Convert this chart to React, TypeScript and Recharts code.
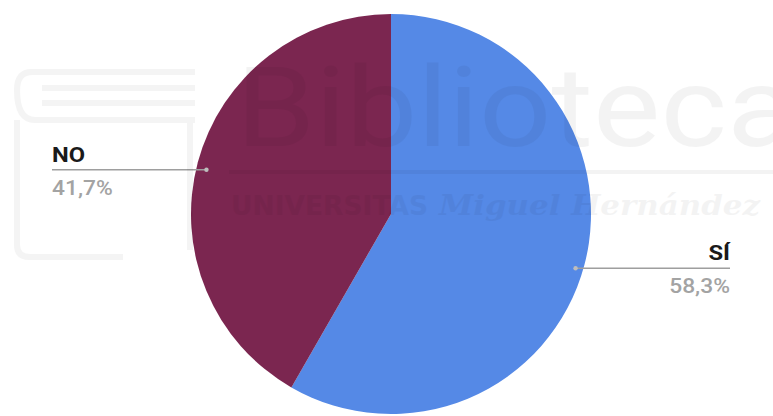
import React from 'react';
import { PieChart, Pie, Cell } from 'recharts';

const labels = ['SÍ', 'NO'];
const values = [58.3, 41.7];
const colors = ['#5589e6', '#7b2650'];

const data = labels.map((name, i) => ({ name, value: values[i] }));

const fmt = (v: number) => v.toFixed(1).replace('.', ',') + '%';

const RAD = Math.PI / 180;

const renderLabel = (props: any) => {
  const { cx, cy, midAngle, outerRadius, name, value } = props;
  const r = outerRadius - 9;
  const x = cx + r * Math.cos(-midAngle * RAD);
  const y = cy + r * Math.sin(-midAngle * RAD) + 5;
  const right = x > cx;
  const endX = right ? cx + 339 : cx - 339;
  const anchor = right ? 'end' : 'start';
  return (
    <g>
      <line x1={x} y1={y} x2={endX} y2={y} stroke="#9e9e9e" strokeWidth={1.5} />
      <circle cx={x} cy={y} r={2.2} fill="#bdbdbd" />
      <g transform={`translate(${endX},${y - 8}) scale(1.13,1)`}>
        <text x={0} y={0} textAnchor={anchor} fontFamily="Roboto" fontWeight={700} fontSize={21} fill="#1a1a1a">
          {name}
        </text>
      </g>
      <g transform={`translate(${endX},${y + 25}) scale(1.17,1)`}>
        <text x={0} y={0} textAnchor={anchor} fontFamily="Roboto" fontWeight={500} fontSize={19.5} fill="#a3a3a3">
          {fmt(value)}
        </text>
      </g>
    </g>
  );
};

export default function App() {
  return (
    <div style={{ position: 'absolute', left: 0, top: 0, width: 773, height: 416, background: '#fff' }}>
      <PieChart width={773} height={416} margin={{ top: 0, right: 0, bottom: 0, left: 0 }}>
        <Pie
          data={data}
          dataKey="value"
          nameKey="name"
          cx={391}
          cy={214}
          outerRadius={200}
          startAngle={90}
          endAngle={-270}
          stroke="none"
          label={renderLabel}
          labelLine={false}
          isAnimationActive={false}
        >
          {data.map((d, i) => (
            <Cell key={d.name} fill={colors[i]} />
          ))}
        </Pie>
      </PieChart>
      <svg width={773} height={416} style={{ position: 'absolute', left: 0, top: 0, pointerEvents: 'none' }}>
        <g opacity={0.045} fill="#000" stroke="none">
          <text x={236} y={146} fontFamily="Roboto" fontWeight={400} fontSize={112} textLength={560} lengthAdjust="spacingAndGlyphs">Biblioteca</text>
          <rect x={229} y={170} width={544} height={4} />
          <text x={231} y={215} fontFamily="DejaVu Sans" fontWeight={700} fontSize={27} textLength={197} lengthAdjust="spacingAndGlyphs">UNIVERSITAS</text>
          <text x={439} y={215} fontFamily="DejaVu Serif" fontStyle="italic" fontWeight={700} fontSize={28} textLength={321} lengthAdjust="spacingAndGlyphs">Miguel Hernández</text>
        </g>
        <g opacity={0.04} fill="none" stroke="#000" strokeWidth={6}>
          <path d="M 195 72 L 32 72 Q 17 72 17 90 Q 17 120 35 120 L 195 120" />
          <path d="M 195 88 L 42 88" />
          <path d="M 195 103 L 42 103" />
          <path d="M 17 120 L 17 245 Q 17 257 30 257 L 123 257" />
          <path d="M 190 120 L 190 250" />
        </g>
      </svg>
    </div>
  );
}
